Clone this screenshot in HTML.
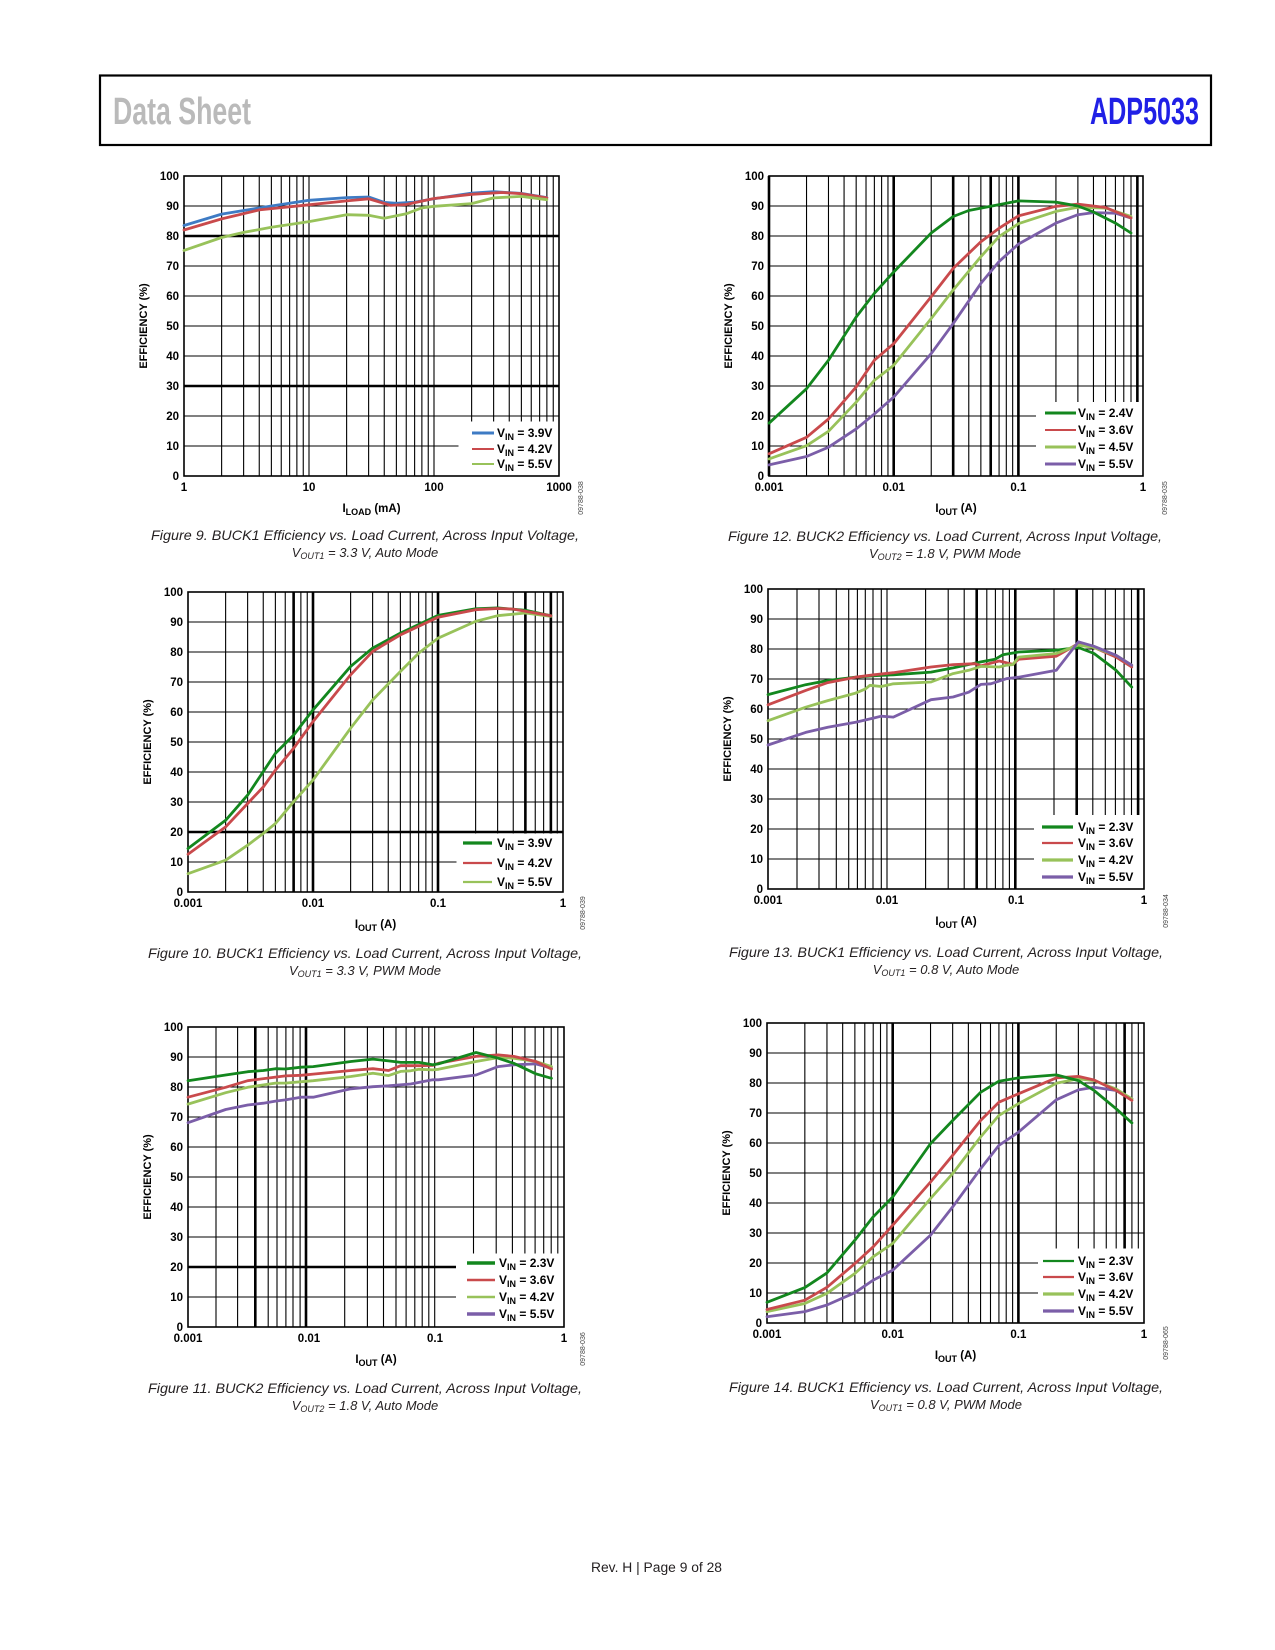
<!DOCTYPE html>
<html><head><meta charset="utf-8"><style>
html,body{margin:0;padding:0;background:#fff}
svg{display:block}
.t{font-family:"Liberation Sans",Arial,sans-serif}
</style></head><body>
<svg class="t" width="1275" height="1650" viewBox="0 0 1275 1650" xmlns="http://www.w3.org/2000/svg" font-family="'Liberation Sans', Arial, sans-serif">
<rect width="1275" height="1650" fill="#fff"/>
<!-- Header -->
<rect x="100" y="75.5" width="1111" height="69.5" fill="none" stroke="#000" stroke-width="2.2"/>
<text x="113" y="124" font-size="38" font-weight="bold" fill="#bababa" textLength="138" lengthAdjust="spacingAndGlyphs">Data Sheet</text>
<text x="1090" y="124" font-size="38" font-weight="bold" fill="#2020e6" textLength="109" lengthAdjust="spacingAndGlyphs">ADP5033</text>

<!-- ============ CHART 1 (Fig 9) ============ -->
<g transform="translate(184,176)">
 <path d="M0 30H375M0 90H375M0 120H375M0 150H375M0 180H375M0 240H375M0 270H375" stroke="#000" stroke-width="1.1"/>
 <path d="M0 60H375M0 210H375" stroke="#000" stroke-width="2.6"/>
 <path transform="scale(125,1)" vector-effect="non-scaling-stroke" stroke="#000" stroke-width="1.1" d="M.301 0V300M.477 0V300M.602 0V300M.699 0V300M.778 0V300M.845 0V300M.903 0V300M.954 0V300M1 0V300M1.301 0V300M1.477 0V300M1.602 0V300M1.699 0V300M1.778 0V300M1.845 0V300M1.903 0V300M1.954 0V300M2 0V300M2.301 0V300M2.477 0V300M2.602 0V300M2.699 0V300M2.778 0V300M2.845 0V300M2.903 0V300M2.954 0V300"/>
 <rect x="274.5" y="245.5" width="100.5" height="54.5" fill="#fff"/>
 <rect width="375" height="300" fill="none" stroke="#000" stroke-width="1.6"/>
 <g transform="translate(0,300) scale(125,-3)" fill="none" stroke-linejoin="round" stroke-linecap="round">
  <polyline vector-effect="non-scaling-stroke" stroke-width="2.8" stroke="#3e7bc4" points="0,83.5 .301,87.3 .477,88.5 .699,90 1,91.9 1.301,92.8 1.477,93 1.602,91.2 1.699,90.9 1.845,91.3 2,92.4 2.301,94.3 2.477,94.8 2.699,94.2 2.903,92.8"/>
  <polyline vector-effect="non-scaling-stroke" stroke-width="2.8" stroke="#c94a4c" points="0,82 .301,85.7 .602,88.7 1,90.4 1.301,91.7 1.477,92.4 1.653,90.2 1.778,90.5 2,92.5 2.301,93.9 2.544,94.5 2.699,94.1 2.903,92.7"/>
  <polyline vector-effect="non-scaling-stroke" stroke-width="2.8" stroke="#98c25a" points="0,75.2 .301,79.5 .477,81.2 .699,82.9 1,84.8 1.301,87.1 1.477,86.9 1.602,85.9 1.778,87.4 1.903,89.4 2,89.9 2.301,90.8 2.477,92.7 2.699,93.2 2.903,92.1"/>
 </g>
 <path d="M288 257H310" stroke="#3e7bc4" stroke-width="3"/>
 <path d="M288 273H310" stroke="#c94a4c" stroke-width="2"/>
 <path d="M288 288H310" stroke="#98c25a" stroke-width="2"/>
 <g font-size="12" font-weight="bold">
  <text x="313" y="261">V<tspan font-size="9" dy="3">IN</tspan><tspan dy="-3"> = 3.9V</tspan></text>
  <text x="313" y="277">V<tspan font-size="9" dy="3">IN</tspan><tspan dy="-3"> = 4.2V</tspan></text>
  <text x="313" y="292">V<tspan font-size="9" dy="3">IN</tspan><tspan dy="-3"> = 5.5V</tspan></text>
 </g>
 <g font-size="11.5" font-weight="bold" text-anchor="end">
  <text x="-5" y="4">100</text><text x="-5" y="34">90</text><text x="-5" y="64">80</text><text x="-5" y="94">70</text><text x="-5" y="124">60</text><text x="-5" y="154">50</text><text x="-5" y="184">40</text><text x="-5" y="214">30</text><text x="-5" y="244">20</text><text x="-5" y="274">10</text><text x="-5" y="304">0</text>
 </g>
 <g font-size="11.5" font-weight="bold" text-anchor="middle">
  <text x="0" y="315">1</text><text x="125" y="315">10</text><text x="250" y="315">100</text><text x="375" y="315">1000</text>
  <text x="187.5" y="336">I<tspan font-size="9" dy="3">LOAD</tspan><tspan dy="-3"> (mA)</tspan></text>
 </g>
 <text transform="translate(-37,150) rotate(-90)" font-size="11" font-weight="bold" text-anchor="middle">EFFICIENCY (%)</text>
 <text transform="translate(399,322) rotate(-90)" font-size="7" fill="#444" text-anchor="middle">09788-038</text>
</g>

<!-- ============ CHART 2 (Fig 12) ============ -->
<g transform="translate(769,176)">
 <path d="M0 30H374M0 60H374M0 90H374M0 120H374M0 150H374M0 180H374M0 210H374M0 240H374M0 270H374" stroke="#000" stroke-width="1.1"/>
 <path transform="scale(124.7,1)" vector-effect="non-scaling-stroke" stroke="#000" stroke-width="1.1" d="M.301 0V300M.477 0V300M.602 0V300M.699 0V300M.778 0V300M.845 0V300M.903 0V300M.954 0V300M1 0V300M1.301 0V300M1.477 0V300M1.602 0V300M1.699 0V300M1.778 0V300M1.845 0V300M1.903 0V300M1.954 0V300M2 0V300M2.301 0V300M2.477 0V300M2.602 0V300M2.699 0V300M2.778 0V300M2.845 0V300M2.903 0V300M2.954 0V300"/>
 <path transform="scale(124.7,1)" vector-effect="non-scaling-stroke" stroke="#000" stroke-width="2.6" d="M1 0V300M1.477 0V300M1.778 0V300M2 0V300M2.954 0V300"/>
 <rect x="267" y="226" width="107" height="74" fill="#fff"/>
 <rect width="374" height="300" fill="none" stroke="#000" stroke-width="1.6"/>
 <path d="M0 0V300" stroke="#000" stroke-width="2.6"/>
 <g transform="translate(0,300) scale(124.7,-3)" fill="none" stroke-linejoin="round" stroke-linecap="round">
  <polyline vector-effect="non-scaling-stroke" stroke-width="2.8" stroke="#7b5ea8" points="0,3.7 .301,6.5 .477,9.6 .699,15.7 .845,20.7 1,26.3 1.301,40.8 1.477,50.8 1.699,64.2 1.845,71.5 2,77.3 2.301,84.3 2.477,87.1 2.602,87.8 2.778,87.6 2.903,86"/>
  <polyline vector-effect="non-scaling-stroke" stroke-width="2.8" stroke="#98c25a" points="0,5.7 .301,10.1 .477,14.9 .699,24.6 .845,31.9 1,36.9 1.301,52.5 1.477,62 1.699,73.1 1.845,79.8 2,84.1 2.301,88.2 2.477,89.6 2.699,89.3 2.903,86.5"/>
  <polyline vector-effect="non-scaling-stroke" stroke-width="2.8" stroke="#c94a4c" points="0,7.4 .301,12.9 .477,19 .699,29.7 .845,38.6 1,44.1 1.301,59.8 1.477,69.2 1.699,78.1 1.845,82.6 2,86.7 2.301,89.9 2.477,90.6 2.699,89.5 2.903,86"/>
  <polyline vector-effect="non-scaling-stroke" stroke-width="2.8" stroke="#13871e" points="0,17.6 .301,29.1 .477,38.6 .699,53 .845,60.9 1,68 1.301,81 1.477,86.5 1.602,88.5 1.778,89.9 2,91.7 2.301,91.3 2.477,90 2.602,88 2.778,84.3 2.903,81"/>
 </g>
 <path d="M276 237H307" stroke="#13871e" stroke-width="3"/>
 <path d="M276 254H307" stroke="#c94a4c" stroke-width="2"/>
 <path d="M276 271H307" stroke="#98c25a" stroke-width="3"/>
 <path d="M276 288H307" stroke="#7b5ea8" stroke-width="3"/>
 <g font-size="12" font-weight="bold">
  <text x="309" y="241">V<tspan font-size="9" dy="3">IN</tspan><tspan dy="-3"> = 2.4V</tspan></text>
  <text x="309" y="258">V<tspan font-size="9" dy="3">IN</tspan><tspan dy="-3"> = 3.6V</tspan></text>
  <text x="309" y="275">V<tspan font-size="9" dy="3">IN</tspan><tspan dy="-3"> = 4.5V</tspan></text>
  <text x="309" y="292">V<tspan font-size="9" dy="3">IN</tspan><tspan dy="-3"> = 5.5V</tspan></text>
 </g>
 <g font-size="11.5" font-weight="bold" text-anchor="end">
  <text x="-5" y="4">100</text><text x="-5" y="34">90</text><text x="-5" y="64">80</text><text x="-5" y="94">70</text><text x="-5" y="124">60</text><text x="-5" y="154">50</text><text x="-5" y="184">40</text><text x="-5" y="214">30</text><text x="-5" y="244">20</text><text x="-5" y="274">10</text><text x="-5" y="304">0</text>
 </g>
 <g font-size="11.5" font-weight="bold" text-anchor="middle">
  <text x="0" y="315">0.001</text><text x="124.7" y="315">0.01</text><text x="249.4" y="315">0.1</text><text x="374" y="315">1</text>
  <text x="187" y="336">I<tspan font-size="9" dy="3">OUT</tspan><tspan dy="-3"> (A)</tspan></text>
 </g>
 <text transform="translate(-37,150) rotate(-90)" font-size="11" font-weight="bold" text-anchor="middle">EFFICIENCY (%)</text>
 <text transform="translate(398,322) rotate(-90)" font-size="7" fill="#444" text-anchor="middle">09788-035</text>
</g>

<!-- ============ CHART 3 (Fig 10) ============ -->
<g transform="translate(188,592)">
 <path d="M0 30H375M0 60H375M0 90H375M0 120H375M0 150H375M0 180H375M0 210H375M0 270H375" stroke="#000" stroke-width="1.1"/>
 <path d="M0 240H375" stroke="#000" stroke-width="2.6"/>
 <path transform="scale(125,1)" vector-effect="non-scaling-stroke" stroke="#000" stroke-width="1.1" d="M.301 0V300M.477 0V300M.602 0V300M.699 0V300M.778 0V300M.845 0V300M.903 0V300M.954 0V300M1 0V300M1.301 0V300M1.477 0V300M1.602 0V300M1.699 0V300M1.778 0V300M1.845 0V300M1.903 0V300M1.954 0V300M2 0V300M2.301 0V300M2.477 0V300M2.602 0V300M2.699 0V300M2.778 0V300M2.845 0V300M2.903 0V300M2.954 0V300"/>
 <path transform="scale(125,1)" vector-effect="non-scaling-stroke" stroke="#000" stroke-width="2.6" d="M.845 0V300M1 0V300M2 0V300M2.699 0V300M2.903 0V300"/>
 <rect x="268.5" y="241.5" width="106.5" height="58.5" fill="#fff"/>
 <rect width="375" height="300" fill="none" stroke="#000" stroke-width="1.6"/>
 <g transform="translate(0,300) scale(125,-3)" fill="none" stroke-linejoin="round" stroke-linecap="round">
  <polyline vector-effect="non-scaling-stroke" stroke-width="2.8" stroke="#98c25a" points="0,6.1 .301,10.6 .477,15.6 .602,19.5 .699,22.8 .845,30.1 1,37.3 1.301,54.6 1.477,64 1.699,73.5 1.845,79.6 2,84.6 2.301,90.2 2.477,92.1 2.699,93 2.903,91.9"/>
  <polyline vector-effect="non-scaling-stroke" stroke-width="2.8" stroke="#13871e" points="0,14.5 .301,23.9 .477,32.3 .699,46.2 .845,52.3 1,60.7 1.301,75.2 1.477,81.3 1.699,86.3 2,92.2 2.301,94.4 2.477,94.7 2.699,93.9 2.903,92.1"/>
  <polyline vector-effect="non-scaling-stroke" stroke-width="2.8" stroke="#c94a4c" points="0,12.6 .301,21.7 .477,29.5 .602,35 .699,40.6 .845,47.9 1,56.8 1.301,72.4 1.477,80.2 1.699,85.7 2,91.6 2.301,94.1 2.477,94.5 2.602,94.3 2.903,92.1"/>
 </g>
 <path d="M275 251H304" stroke="#13871e" stroke-width="3.2"/>
 <path d="M275 271H304" stroke="#c94a4c" stroke-width="2.2"/>
 <path d="M275 290H304" stroke="#98c25a" stroke-width="2.2"/>
 <g font-size="12" font-weight="bold">
  <text x="309" y="255">V<tspan font-size="9" dy="3">IN</tspan><tspan dy="-3"> = 3.9V</tspan></text>
  <text x="309" y="275">V<tspan font-size="9" dy="3">IN</tspan><tspan dy="-3"> = 4.2V</tspan></text>
  <text x="309" y="294">V<tspan font-size="9" dy="3">IN</tspan><tspan dy="-3"> = 5.5V</tspan></text>
 </g>
 <g font-size="11.5" font-weight="bold" text-anchor="end">
  <text x="-5" y="4">100</text><text x="-5" y="34">90</text><text x="-5" y="64">80</text><text x="-5" y="94">70</text><text x="-5" y="124">60</text><text x="-5" y="154">50</text><text x="-5" y="184">40</text><text x="-5" y="214">30</text><text x="-5" y="244">20</text><text x="-5" y="274">10</text><text x="-5" y="304">0</text>
 </g>
 <g font-size="11.5" font-weight="bold" text-anchor="middle">
  <text x="0" y="315">0.001</text><text x="125" y="315">0.01</text><text x="250" y="315">0.1</text><text x="375" y="315">1</text>
  <text x="187.5" y="336">I<tspan font-size="9" dy="3">OUT</tspan><tspan dy="-3"> (A)</tspan></text>
 </g>
 <text transform="translate(-37,150) rotate(-90)" font-size="11" font-weight="bold" text-anchor="middle">EFFICIENCY (%)</text>
 <text transform="translate(397,321) rotate(-90)" font-size="7" fill="#444" text-anchor="middle">09788-039</text>
</g>

<!-- ============ CHART 4 (Fig 13) ============ -->
<g transform="translate(768,589)">
 <path d="M0 30H376M0 60H376M0 90H376M0 120H376M0 150H376M0 180H376M0 210H376M0 240H376M0 270H376" stroke="#000" stroke-width="1.1"/>
 <path stroke="#000" stroke-width="1.1" d="M29 0V300M51 0V300M68.3 0V300M80.7 0V300M89.4 0V300M97.3 0V300M105 0V300M113.3 0V300M119 0V300M157.6 0V300M180.2 0V300M196.2 0V300M208.7 0V300M218.8 0V300M227.4 0V300M234.9 0V300M241.4 0V300M247.3 0V300M286 0V300M308.7 0V300M324.8 0V300M337.3 0V300M347.4 0V300M356.1 0V300M363.5 0V300M370.1 0V300"/>
 <path stroke="#000" stroke-width="2.6" d="M208.7 0V300M247.3 0V300M308.7 0V300M370.1 0V300"/>
 <rect x="266" y="226" width="110" height="74" fill="#fff"/>
 <rect width="376" height="300" fill="none" stroke="#000" stroke-width="1.6"/>
 <g transform="translate(0,300) scale(125.3,-3)" fill="none" stroke-linejoin="round" stroke-linecap="round">
  <polyline vector-effect="non-scaling-stroke" stroke-width="2.8" stroke="#13871e" points="0,64.8 .301,68.1 .477,69.5 .699,70.6 .845,71.1 1,71.4 1.301,72.3 1.477,73.7 1.699,75.7 1.813,76.6 1.875,78.1 2,79 2.301,79.6 2.477,80.5 2.602,78.5 2.778,72.9 2.903,67.3"/>
  <polyline vector-effect="non-scaling-stroke" stroke-width="2.8" stroke="#c94a4c" points="0,61.4 .301,66.2 .477,68.8 .699,70.6 .845,71.4 1,72.1 1.301,74 1.477,74.8 1.653,75.1 1.699,74.4 1.845,76 1.954,74.9 2,76.6 2.301,77.6 2.477,81.8 2.602,80.5 2.778,77.3 2.903,74"/>
  <polyline vector-effect="non-scaling-stroke" stroke-width="2.8" stroke="#98c25a" points="0,56.1 .301,60.6 .477,62.8 .699,65.3 .778,66.7 .813,67.9 .903,67.5 1,68.4 1.301,69 1.477,71.8 1.602,72.9 1.699,74.2 1.845,74 1.903,74.6 1.954,74.8 2,77.3 2.301,78.5 2.477,81.3 2.602,80.5 2.778,77.9 2.903,74.6"/>
  <polyline vector-effect="non-scaling-stroke" stroke-width="2.8" stroke="#7b5ea8" points="0,48 .301,52.2 .477,53.9 .699,55.6 .845,57 .903,57.6 1,57.3 1.301,63.1 1.477,64 1.602,65.6 1.699,68.2 1.778,68.4 1.903,70.1 2,70.6 2.301,72.9 2.477,82.4 2.602,80.9 2.778,77.9 2.903,74.6"/>
 </g>
 <path d="M274 238H305" stroke="#13871e" stroke-width="3.2"/>
 <path d="M274 254H305" stroke="#c94a4c" stroke-width="2.2"/>
 <path d="M274 271H305" stroke="#98c25a" stroke-width="3.2"/>
 <path d="M274 288H305" stroke="#7b5ea8" stroke-width="3.2"/>
 <g font-size="12" font-weight="bold">
  <text x="310" y="242">V<tspan font-size="9" dy="3">IN</tspan><tspan dy="-3"> = 2.3V</tspan></text>
  <text x="310" y="258">V<tspan font-size="9" dy="3">IN</tspan><tspan dy="-3"> = 3.6V</tspan></text>
  <text x="310" y="275">V<tspan font-size="9" dy="3">IN</tspan><tspan dy="-3"> = 4.2V</tspan></text>
  <text x="310" y="292">V<tspan font-size="9" dy="3">IN</tspan><tspan dy="-3"> = 5.5V</tspan></text>
 </g>
 <g font-size="11.5" font-weight="bold" text-anchor="end">
  <text x="-5" y="4">100</text><text x="-5" y="34">90</text><text x="-5" y="64">80</text><text x="-5" y="94">70</text><text x="-5" y="124">60</text><text x="-5" y="154">50</text><text x="-5" y="184">40</text><text x="-5" y="214">30</text><text x="-5" y="244">20</text><text x="-5" y="274">10</text><text x="-5" y="304">0</text>
 </g>
 <g font-size="11.5" font-weight="bold" text-anchor="middle">
  <text x="0" y="315">0.001</text><text x="119" y="315">0.01</text><text x="248" y="315">0.1</text><text x="376" y="315">1</text>
  <text x="188" y="336">I<tspan font-size="9" dy="3">OUT</tspan><tspan dy="-3"> (A)</tspan></text>
 </g>
 <text transform="translate(-37,150) rotate(-90)" font-size="11" font-weight="bold" text-anchor="middle">EFFICIENCY (%)</text>
 <text transform="translate(400,322) rotate(-90)" font-size="7" fill="#444" text-anchor="middle">09788-034</text>
</g>

<!-- ============ CHART 5 (Fig 11) ============ -->
<g transform="translate(188,1027)">
 <path d="M0 30H376M0 60H376M0 90H376M0 120H376M0 150H376M0 180H376M0 210H376M0 270H376" stroke="#000" stroke-width="1.1"/>
 <path d="M0 240H376" stroke="#000" stroke-width="2.6"/>
 <path stroke="#000" stroke-width="1.1" d="M28 0V300M49.6 0V300M67.3 0V300M80.2 0V300M89 0V300M97.9 0V300M105 0V300M112.1 0V300M118 0V300M156.7 0V300M179.4 0V300M195.5 0V300M208 0V300M218.1 0V300M226.8 0V300M234.2 0V300M240.8 0V300M246.7 0V300M285.5 0V300M308.2 0V300M324.4 0V300M336.9 0V300M347.1 0V300M355.7 0V300M363.2 0V300M369.8 0V300"/>
 <path stroke="#000" stroke-width="2.6" d="M67.3 0V300M118 0V300"/>
 <rect x="268" y="226.5" width="108" height="73.5" fill="#fff"/>
 <rect width="376" height="300" fill="none" stroke="#000" stroke-width="1.6"/>
 <g transform="translate(0,300) scale(125.2,-3)" fill="none" stroke-linejoin="round" stroke-linecap="round">
  <polyline vector-effect="non-scaling-stroke" stroke-width="2.8" stroke="#7b5ea8" points="0,68.1 .301,72.5 .477,74 .602,74.6 .699,75.3 .778,75.7 .903,76.6 1,76.6 1.301,79.4 1.477,80.1 1.602,80.4 1.778,81 1.954,82.4 2,82.4 2.301,84 2.477,86.8 2.602,87.4 2.778,87.7 2.903,86.3"/>
  <polyline vector-effect="non-scaling-stroke" stroke-width="2.8" stroke="#98c25a" points="0,74.3 .301,78.1 .477,79.9 .699,81.3 .778,81.3 1,82.1 1.301,83.5 1.477,84.6 1.602,83.8 1.699,85.2 1.778,85.4 1.845,85.9 1.954,85.7 2,85.9 2.301,88.5 2.477,89.8 2.602,89.6 2.778,88.5 2.903,86.8"/>
  <polyline vector-effect="non-scaling-stroke" stroke-width="2.8" stroke="#c94a4c" points="0,76.6 .301,79.9 .477,82.1 .699,83.3 .778,83.7 .903,83.9 1,84.3 1.301,85.5 1.477,86.1 1.602,85.5 1.699,87.1 1.845,87.1 1.954,87.2 2,87.9 2.301,90.2 2.477,90.7 2.602,90.2 2.778,88.5 2.903,86"/>
  <polyline vector-effect="non-scaling-stroke" stroke-width="2.8" stroke="#13871e" points="0,82.1 .301,84 .477,85.1 .602,85.5 .699,86.1 .778,86 .903,86.6 1,86.8 1.301,88.5 1.477,89.3 1.602,88.7 1.699,88.2 1.845,88.2 1.954,87.4 2,87.7 2.301,91.5 2.477,89.6 2.602,87.9 2.778,84.4 2.903,82.9"/>
 </g>
 <path d="M279 236H307" stroke="#13871e" stroke-width="3.4"/>
 <path d="M279 253H307" stroke="#c94a4c" stroke-width="2.4"/>
 <path d="M279 270H307" stroke="#98c25a" stroke-width="2.6"/>
 <path d="M279 287H307" stroke="#7b5ea8" stroke-width="3.4"/>
 <g font-size="12" font-weight="bold">
  <text x="311" y="240">V<tspan font-size="9" dy="3">IN</tspan><tspan dy="-3"> = 2.3V</tspan></text>
  <text x="311" y="257">V<tspan font-size="9" dy="3">IN</tspan><tspan dy="-3"> = 3.6V</tspan></text>
  <text x="311" y="274">V<tspan font-size="9" dy="3">IN</tspan><tspan dy="-3"> = 4.2V</tspan></text>
  <text x="311" y="291">V<tspan font-size="9" dy="3">IN</tspan><tspan dy="-3"> = 5.5V</tspan></text>
 </g>
 <g font-size="11.5" font-weight="bold" text-anchor="end">
  <text x="-5" y="4">100</text><text x="-5" y="34">90</text><text x="-5" y="64">80</text><text x="-5" y="94">70</text><text x="-5" y="124">60</text><text x="-5" y="154">50</text><text x="-5" y="184">40</text><text x="-5" y="214">30</text><text x="-5" y="244">20</text><text x="-5" y="274">10</text><text x="-5" y="304">0</text>
 </g>
 <g font-size="11.5" font-weight="bold" text-anchor="middle">
  <text x="0" y="315">0.001</text><text x="121" y="315">0.01</text><text x="247" y="315">0.1</text><text x="376" y="315">1</text>
  <text x="188" y="336">I<tspan font-size="9" dy="3">OUT</tspan><tspan dy="-3"> (A)</tspan></text>
 </g>
 <text transform="translate(-37,150) rotate(-90)" font-size="11" font-weight="bold" text-anchor="middle">EFFICIENCY (%)</text>
 <text transform="translate(397,322) rotate(-90)" font-size="7" fill="#444" text-anchor="middle">09788-036</text>
</g>

<!-- ============ CHART 6 (Fig 14) ============ -->
<g transform="translate(767,1023)">
 <path d="M0 30H377M0 60H377M0 90H377M0 120H377M0 150H377M0 180H377M0 210H377M0 240H377M0 270H377" stroke="#000" stroke-width="1.1"/>
 <path transform="scale(125.7,1)" vector-effect="non-scaling-stroke" stroke="#000" stroke-width="1.1" d="M.301 0V300M.477 0V300M.602 0V300M.699 0V300M.778 0V300M.845 0V300M.903 0V300M.954 0V300M1 0V300M1.301 0V300M1.477 0V300M1.602 0V300M1.699 0V300M1.778 0V300M1.845 0V300M1.903 0V300M1.954 0V300M2 0V300M2.301 0V300M2.477 0V300M2.602 0V300M2.699 0V300M2.778 0V300M2.845 0V300M2.903 0V300M2.954 0V300"/>
 <path transform="scale(125.7,1)" vector-effect="non-scaling-stroke" stroke="#000" stroke-width="2.6" d="M1 0V300M2 0V300M2.845 0V300"/>
 <rect x="271" y="225.5" width="106" height="74.5" fill="#fff"/>
 <rect width="377" height="300" fill="none" stroke="#000" stroke-width="1.6"/>
 <g transform="translate(0,300) scale(125.7,-3)" fill="none" stroke-linejoin="round" stroke-linecap="round">
  <polyline vector-effect="non-scaling-stroke" stroke-width="2.8" stroke="#7b5ea8" points="0,2.1 .301,3.8 .477,6 .699,10.1 .845,14.3 1,17.6 1.301,29.3 1.477,38.7 1.699,51.4 1.845,59.2 2,63.6 2.301,74.4 2.477,77.7 2.602,78.6 2.778,77.5 2.903,74.7"/>
  <polyline vector-effect="non-scaling-stroke" stroke-width="2.8" stroke="#98c25a" points="0,3.8 .301,6.5 .477,9.9 .699,16.5 .845,22.1 1,26.5 1.301,41.5 1.477,49.8 1.699,62 1.845,69.2 2,73.1 2.301,79.9 2.477,81.4 2.602,80.8 2.778,78 2.903,74.7"/>
  <polyline vector-effect="non-scaling-stroke" stroke-width="2.8" stroke="#c94a4c" points="0,4.5 .301,7.6 .477,11.9 .699,19.8 .845,25.4 1,32.6 1.301,47 1.477,55.9 1.699,67.5 1.845,73.6 2,76.4 2.301,81.7 2.477,82.2 2.602,81 2.778,77.5 2.903,74.2"/>
  <polyline vector-effect="non-scaling-stroke" stroke-width="2.8" stroke="#13871e" points="0,6.9 .301,11.8 .477,16.7 .699,27.6 .845,35.4 1,42 1.301,59.8 1.477,67.5 1.699,76.9 1.845,80.6 2,81.7 2.301,82.7 2.477,80.8 2.602,77.5 2.778,71.4 2.903,66.7"/>
 </g>
 <path d="M276 238H307" stroke="#13871e" stroke-width="2.2"/>
 <path d="M276 254H307" stroke="#c94a4c" stroke-width="2.2"/>
 <path d="M276 271H307" stroke="#98c25a" stroke-width="3.2"/>
 <path d="M276 288H307" stroke="#7b5ea8" stroke-width="3.2"/>
 <g font-size="12" font-weight="bold">
  <text x="311" y="242">V<tspan font-size="9" dy="3">IN</tspan><tspan dy="-3"> = 2.3V</tspan></text>
  <text x="311" y="258">V<tspan font-size="9" dy="3">IN</tspan><tspan dy="-3"> = 3.6V</tspan></text>
  <text x="311" y="275">V<tspan font-size="9" dy="3">IN</tspan><tspan dy="-3"> = 4.2V</tspan></text>
  <text x="311" y="292">V<tspan font-size="9" dy="3">IN</tspan><tspan dy="-3"> = 5.5V</tspan></text>
 </g>
 <g font-size="11.5" font-weight="bold" text-anchor="end">
  <text x="-5" y="4">100</text><text x="-5" y="34">90</text><text x="-5" y="64">80</text><text x="-5" y="94">70</text><text x="-5" y="124">60</text><text x="-5" y="154">50</text><text x="-5" y="184">40</text><text x="-5" y="214">30</text><text x="-5" y="244">20</text><text x="-5" y="274">10</text><text x="-5" y="304">0</text>
 </g>
 <g font-size="11.5" font-weight="bold" text-anchor="middle">
  <text x="0" y="315">0.001</text><text x="125.7" y="315">0.01</text><text x="251.4" y="315">0.1</text><text x="377" y="315">1</text>
  <text x="188.5" y="336">I<tspan font-size="9" dy="3">OUT</tspan><tspan dy="-3"> (A)</tspan></text>
 </g>
 <text transform="translate(-37,150) rotate(-90)" font-size="11" font-weight="bold" text-anchor="middle">EFFICIENCY (%)</text>
 <text transform="translate(401,320) rotate(-90)" font-size="7" fill="#444" text-anchor="middle">09788-065</text>
</g>

<!-- ============ Captions ============ -->
<g font-style="italic" fill="#231f20" text-anchor="middle">
 <text x="365" y="540" font-size="14" textLength="428" lengthAdjust="spacingAndGlyphs">Figure 9. BUCK1 Efficiency vs. Load Current, Across Input Voltage,</text>
 <text x="365" y="557" font-size="13">V<tspan font-size="9" dy="2">OUT1</tspan><tspan dy="-2"> = 3.3 V, Auto Mode</tspan></text>

 <text x="945" y="541" font-size="14" textLength="434" lengthAdjust="spacingAndGlyphs">Figure 12. BUCK2 Efficiency vs. Load Current, Across Input Voltage,</text>
 <text x="945" y="558" font-size="13">V<tspan font-size="9" dy="2">OUT2</tspan><tspan dy="-2"> = 1.8 V, PWM Mode</tspan></text>

 <text x="365" y="958" font-size="14" textLength="434" lengthAdjust="spacingAndGlyphs">Figure 10. BUCK1 Efficiency vs. Load Current, Across Input Voltage,</text>
 <text x="365" y="975" font-size="13">V<tspan font-size="9" dy="2">OUT1</tspan><tspan dy="-2"> = 3.3 V, PWM Mode</tspan></text>

 <text x="946" y="957" font-size="14" textLength="434" lengthAdjust="spacingAndGlyphs">Figure 13. BUCK1 Efficiency vs. Load Current, Across Input Voltage,</text>
 <text x="946" y="974" font-size="13">V<tspan font-size="9" dy="2">OUT1</tspan><tspan dy="-2"> = 0.8 V, Auto Mode</tspan></text>

 <text x="365" y="1393" font-size="14" textLength="434" lengthAdjust="spacingAndGlyphs">Figure 11. BUCK2 Efficiency vs. Load Current, Across Input Voltage,</text>
 <text x="365" y="1410" font-size="13">V<tspan font-size="9" dy="2">OUT2</tspan><tspan dy="-2"> = 1.8 V, Auto Mode</tspan></text>

 <text x="946" y="1392" font-size="14" textLength="434" lengthAdjust="spacingAndGlyphs">Figure 14. BUCK1 Efficiency vs. Load Current, Across Input Voltage,</text>
 <text x="946" y="1409" font-size="13">V<tspan font-size="9" dy="2">OUT1</tspan><tspan dy="-2"> = 0.8 V, PWM Mode</tspan></text>
</g>

<!-- Footer -->
<text x="656.5" y="1572" font-size="13.5" fill="#231f20" text-anchor="middle" textLength="131" lengthAdjust="spacingAndGlyphs">Rev. H | Page 9 of 28</text>
</svg>
</body></html>
